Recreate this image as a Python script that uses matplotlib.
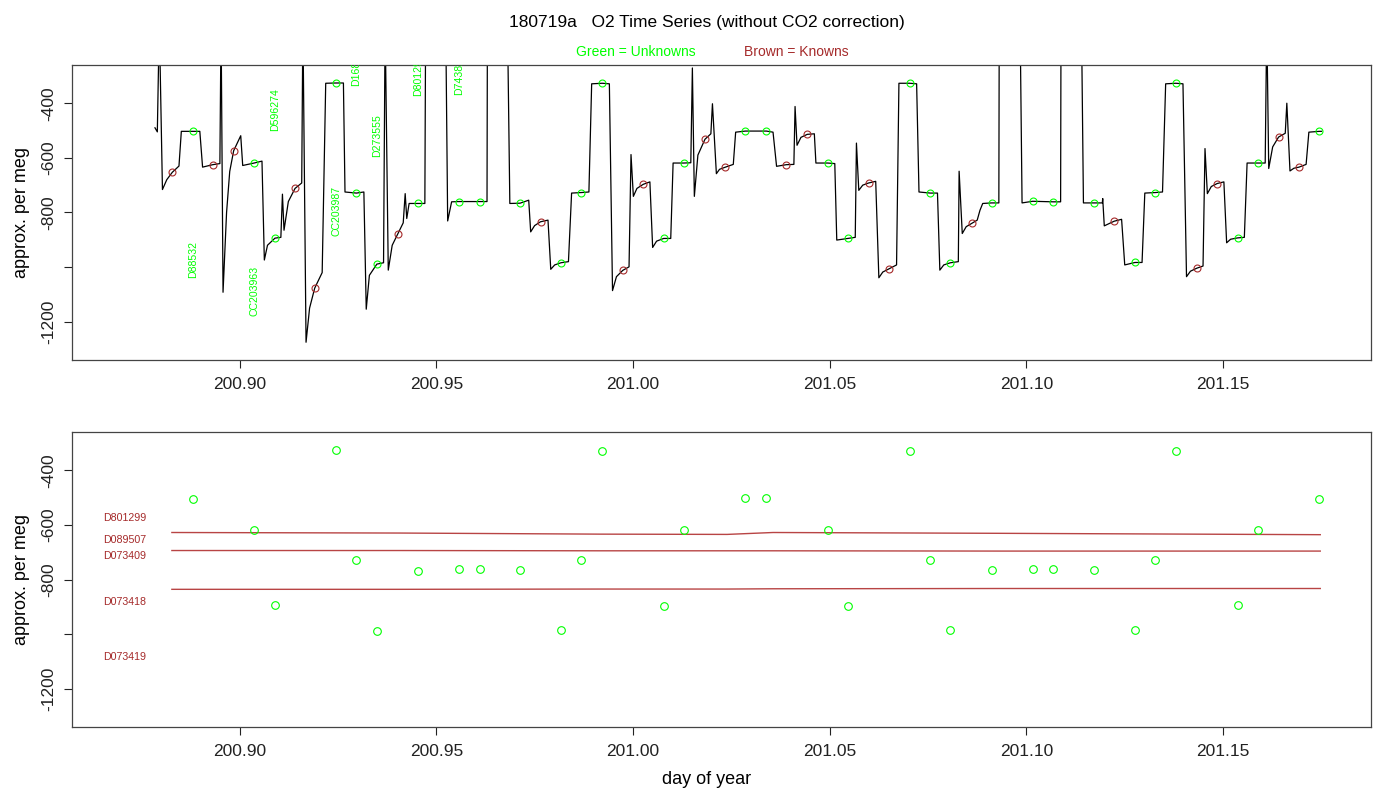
import matplotlib
matplotlib.use("Agg")
import matplotlib.pyplot as plt

plt.rcParams["font.family"] = ["Liberation Sans", "DejaVu Sans"]

GREEN = "#00FF00"
BROWN = "#A52A2A"

# raw O2 trace (day of year, per meg); -100 means off scale above the plot
trace_t = [
    200.8785, 200.8791, 200.8796, 200.8804, 200.8815, 200.8829, 200.8846, 200.8852, 200.8881, 200.8899,
    200.8906, 200.8932, 200.8950, 200.8953, 200.8958, 200.8967, 200.8975, 200.8985, 200.9003, 200.9008,
    200.9037, 200.9057, 200.9063, 200.9071, 200.9090, 200.9105, 200.9109, 200.9113, 200.9124, 200.9141,
    200.9158, 200.9161, 200.9169, 200.9178, 200.9191, 200.9210, 200.9219, 200.9246, 200.9264, 200.9268,
    200.9297, 200.9316, 200.9322, 200.9330, 200.9349, 200.9366, 200.9370, 200.9378, 200.9388, 200.9402,
    200.9416, 200.9421, 200.9425, 200.9431, 200.9454, 200.9471, 200.9473, 200.9524, 200.9529, 200.9539,
    200.9557, 200.9610, 200.9629, 200.9630, 200.9681, 200.9687, 200.9713, 200.9735, 200.9740, 200.9750,
    200.9765, 200.9784, 200.9791, 200.9801, 200.9817, 200.9836, 200.9844, 200.9869, 200.9888, 200.9895,
    200.9922, 200.9940, 200.9948, 200.9958, 200.9974, 200.9990, 200.9995, 201.0001, 201.0010, 201.0026,
    201.0043, 201.0050, 201.0060, 201.0078, 201.0096, 201.0102, 201.0129, 201.0147, 201.0151, 201.0156,
    201.0165, 201.0183, 201.0198, 201.0202, 201.0212, 201.0220, 201.0235, 201.0255, 201.0261, 201.0286,
    201.0339, 201.0356, 201.0365, 201.0390, 201.0409, 201.0412, 201.0417, 201.0427, 201.0443, 201.0461,
    201.0465, 201.0495, 201.0513, 201.0518, 201.0547, 201.0565, 201.0568, 201.0574, 201.0584, 201.0599,
    201.0617, 201.0625, 201.0635, 201.0651, 201.0670, 201.0676, 201.0703, 201.0721, 201.0727, 201.0756,
    201.0774, 201.0780, 201.0790, 201.0807, 201.0827, 201.0829, 201.0837, 201.0847, 201.0861, 201.0875,
    201.0882, 201.0889, 201.0912, 201.0930, 201.0931, 201.0984, 201.0989, 201.1016, 201.1068, 201.1087,
    201.1088, 201.1140, 201.1145, 201.1172, 201.1193, 201.1194, 201.1198, 201.1223, 201.1242, 201.1250,
    201.1276, 201.1294, 201.1301, 201.1328, 201.1346, 201.1354, 201.1380, 201.1398, 201.1407, 201.1417,
    201.1433, 201.1449, 201.1454, 201.1460, 201.1470, 201.1485, 201.1502, 201.1509, 201.1519, 201.1537,
    201.1554, 201.1561, 201.1589, 201.1607, 201.1611, 201.1616, 201.1626, 201.1641, 201.1658, 201.1662,
    201.1670, 201.1680, 201.1693, 201.1711, 201.1718, 201.1744, 201.1750,
]
trace_v = [
    -490, -505, -100, -716, -680, -653, -630, -503, -503, -503,
    -634, -625, -621, -100, -1092, -800, -650, -574, -519, -628,
    -619, -612, -974, -920, -894, -891, -733, -865, -760, -712,
    -692, -100, -1275, -1150, -1077, -1020, -327, -326, -326, -725,
    -729, -725, -1154, -1030, -989, -984, -100, -1011, -920, -879,
    -838, -731, -822, -767, -767, -767, -100, -100, -831, -761,
    -760, -760, -760, -100, -100, -767, -766, -755, -871, -848,
    -834, -828, -1008, -992, -984, -980, -729, -727, -725, -329,
    -327, -329, -1086, -1035, -1012, -999, -588, -741, -712, -697,
    -688, -928, -905, -895, -895, -619, -619, -618, -271, -741,
    -590, -532, -512, -402, -658, -642, -634, -624, -506, -502,
    -502, -506, -631, -625, -624, -412, -554, -525, -514, -512,
    -619, -619, -621, -901, -895, -891, -546, -719, -700, -692,
    -686, -1039, -1018, -1006, -992, -327, -327, -329, -725, -729,
    -729, -1011, -992, -984, -980, -649, -877, -852, -840, -828,
    -792, -767, -765, -765, -100, -100, -765, -759, -761, -761,
    -100, -100, -765, -765, -765, -749, -849, -832, -825, -992,
    -983, -983, -729, -727, -725, -329, -327, -329, -1035, -1015,
    -1004, -996, -566, -731, -705, -694, -688, -911, -898, -893,
    -891, -619, -619, -619, -100, -639, -560, -524, -510, -400,
    -648, -638, -634, -624, -506, -503, -503,
]

# unknowns (green)
unk_t = [
    200.8881, 200.9037, 200.9090, 200.9246, 200.9297, 200.9349, 200.9454, 200.9557,
    200.9610, 200.9713, 200.9817, 200.9869, 200.9922, 201.0078, 201.0129, 201.0286,
    201.0339, 201.0495, 201.0547, 201.0703, 201.0756, 201.0807, 201.0912, 201.1016,
    201.1068, 201.1172, 201.1276, 201.1328, 201.1380, 201.1537, 201.1589, 201.1744,
]
unk_v = [
    -503, -619, -894, -326, -729, -989, -767, -760,
    -760, -766, -984, -727, -327, -895, -619, -502,
    -502, -619, -895, -327, -729, -984, -765, -759,
    -761, -765, -983, -727, -327, -893, -619, -503,
]
unk_names = ["D88532", "CC203963", "D596274", "CC203987", "D168414", "D273555", "D801298", "D743826"]

# knowns (brown)
std_t = [
    200.8829, 200.8932, 200.8985, 200.9141, 200.9191, 200.9402, 200.9765, 200.9974,
    201.0026, 201.0183, 201.0235, 201.0390, 201.0443, 201.0599, 201.0651, 201.0861,
    201.1223, 201.1433, 201.1485, 201.1641, 201.1693,
]
std_v = [
    -653, -625, -574, -712, -1077, -879, -834, -1012,
    -697, -532, -634, -625, -514, -692, -1006, -840,
    -832, -1004, -694, -524, -634,
]

# fitted standard lines in the lower panel
fit_t = [200.8828, 200.9407, 200.9916, 201.0239, 201.0356, 201.0934, 201.1747]
fit1_v = [-627, -629, -633, -634, -627, -630, -635]
fit2_v = [-693, -693, -694, -694, -694, -695, -695]
fit3_v = [-835, -835, -834, -834, -833, -832, -832]

std_names = ["D801299", "D089507", "D073409", "D073418", "D073419"]
std_label_v = [-575, -655, -713, -882, -1083]

xticks = [200.90, 200.95, 201.00, 201.05, 201.10, 201.15]
yticks = [-1200, -1000, -800, -600, -400]
ytick_labels = ["-1200", "", "-800", "-600", "-400"]

fig = plt.figure(figsize=(14, 8), dpi=100)
ax1 = fig.add_axes([0.0514, 0.55, 0.9279, 0.3688])
ax2 = fig.add_axes([0.0514, 0.0909, 0.9279, 0.3688])

for ax in (ax1, ax2):
    ax.set_xlim(200.8574, 201.1876)
    ax.set_ylim(-1340, -260)
    ax.set_xticks(xticks)
    ax.set_xticklabels([f"{x:.2f}" for x in xticks])
    ax.set_yticks(yticks)
    ax.set_yticklabels(ytick_labels, rotation=90, va="center")
    ax.tick_params(direction="out", length=6, width=0.8, colors="#222222",
                   labelsize=12.5, pad=6)
    ax.tick_params(axis="y", pad=5)
    for s in ax.spines.values():
        s.set_color("#444444")
        s.set_linewidth(0.9)

# upper panel: trace with sample markers
ax1.plot(trace_t, trace_v, color="black", lw=0.9)
ax1.plot(std_t, std_v, "o", mfc="none", mec=BROWN, ms=5, mew=0.8)
ax1.plot(unk_t, unk_v, "o", mfc="none", mec=GREEN, ms=5, mew=0.8)
for t, v, name in zip(unk_t, unk_v, unk_names):
    yy = v - 470 if v > -700 else v + 470
    ax1.text(t, yy, name, rotation=90, ha="center", va="center", color=GREEN,
             fontsize=7.6, clip_on=True)

# lower panel: unknowns and fitted standards
for fv in (fit1_v, fit2_v, fit3_v):
    ax2.plot(fit_t, fv, color="#B84444", lw=1.0)
ax2.plot(unk_t, unk_v, "o", mfc="none", mec=GREEN, ms=5.5, mew=0.8)
for name, v in zip(std_names, std_label_v):
    ax2.text(200.8653, v, name, ha="left", va="center", color=BROWN, fontsize=7.7)

fig.text(0.0157, 0.7344, "approx. per meg", rotation=90, ha="center", va="center", fontsize=13)
fig.text(0.0157, 0.2753, "approx. per meg", rotation=90, ha="center", va="center", fontsize=13)
fig.text(0.505, 0.025, "day of year", ha="center", va="center", fontsize=13)

fig.text(0.505, 1 - 22 / 800, "180719a   O2 Time Series (without CO2 correction)",
         ha="center", va="center", fontsize=12.5)
fig.text(0.4543, 1 - 52 / 800, "Green = Unknowns", ha="center", va="center",
         color=GREEN, fontsize=10)
fig.text(0.5686, 1 - 52 / 800, "Brown = Knowns", ha="center", va="center",
         color=BROWN, fontsize=10)

fig.savefig("out.png", dpi=100)
plt.close(fig)
